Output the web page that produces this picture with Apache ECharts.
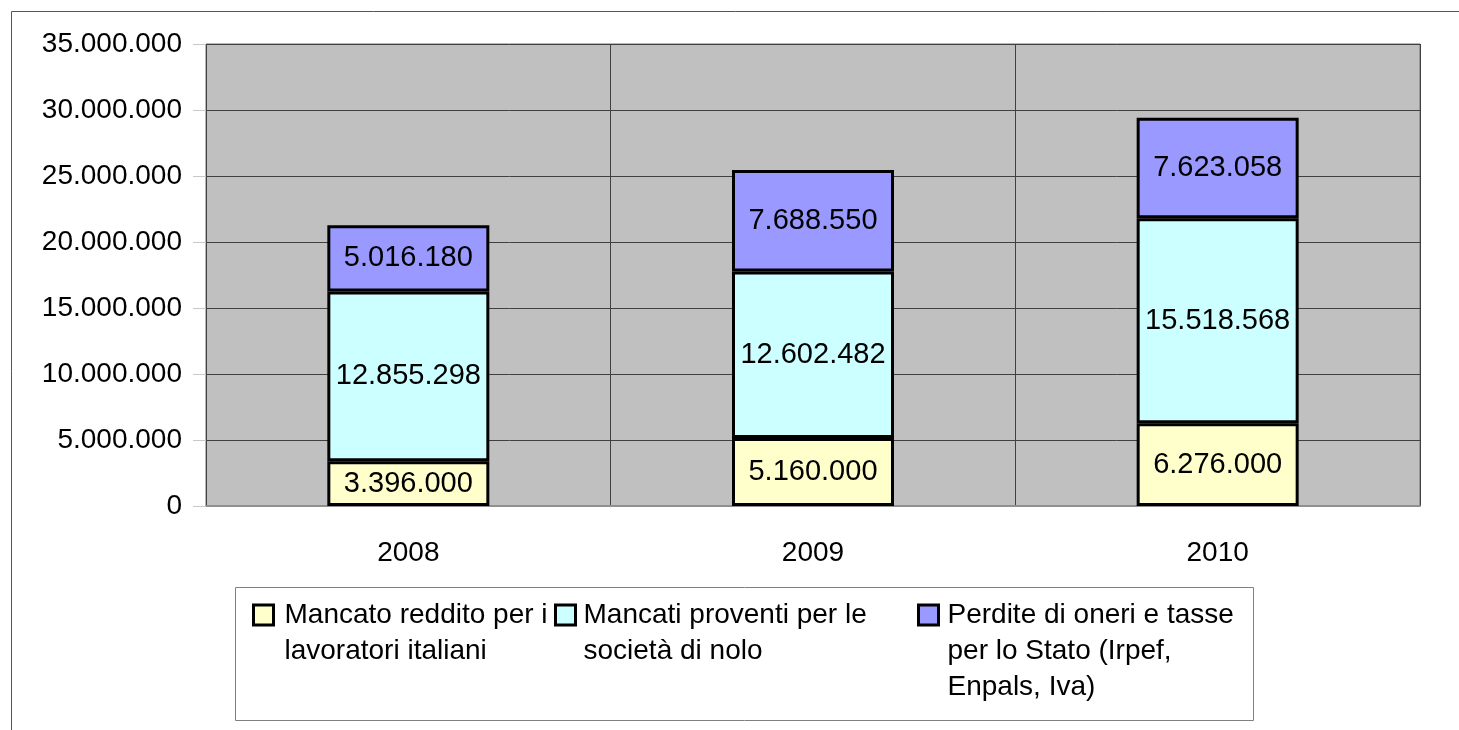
<!DOCTYPE html>
<html>
<head>
<meta charset="utf-8">
<script src="https://cdn.jsdelivr.net/npm/echarts@6/dist/echarts.min.js"></script>
<style>
  html, body { margin: 0; padding: 0; background: #fff; }
  #chart { width: 1459px; height: 730px; }
</style>
</head>
<body>
<div id="chart"></div>
<script>
// dati
const years = ['2008', '2009', '2010'];
const redditoLavoratori = [3396000, 5160000, 6276000];
const proventiNolo = [12855298, 12602482, 15518568];
const perditeStato = [5016180, 7688550, 7623058];
const seriesNames = [
  'Mancato reddito per i lavoratori italiani',
  'Mancati proventi per le società di nolo',
  'Perdite di oneri e tasse per lo Stato (Irpef, Enpals, Iva)'
];
// righe del testo in legenda (a capo come nell'originale)
const legendLines = [
  ['Mancato reddito per i', 'lavoratori italiani'],
  ['Mancati proventi per le', 'società di nolo'],
  ['Perdite di oneri e tasse', 'per lo Stato (Irpef,', 'Enpals, Iva)']
];
const colors = ['#ffffcc', '#ccffff', '#9999ff'];

const FONT = "'Liberation Sans', Arial, sans-serif";
const LH = 36;

// separatore delle migliaia all'italiana
const fmt = v => String(Math.round(v)).replace(/\B(?=(\d{3})+(?!\d))/g, '.');

const chart = echarts.init(document.getElementById('chart'));

const dataSets = [redditoLavoratori, proventiNolo, perditeStato];

const series = dataSets.map((d, i) => ({
  name: seriesNames[i],
  type: 'bar',
  stack: 'tot',
  barWidth: 162,
  data: d,
  itemStyle: { color: colors[i], borderColor: '#000', borderWidth: 3 },
  label: {
    show: true,
    position: 'inside',
    formatter: p => fmt(p.value),
    color: '#000',
    fontSize: 29,
    fontFamily: FONT
  },
  emphasis: { disabled: true }
}));

// una legenda per voce; righe vuote in testa così il quadratino
// (centrato sul blocco di testo) resta all'altezza della prima riga
const legendLeft = [252, 554, 917];
const legendPadLeft = [6, 3, 4];
const legends = seriesNames.map((name, i) => {
  const n = legendLines[i].length;
  const H = (2 * n - 1) * LH;
  return {
    data: [name],
    left: legendLeft[i],
    top: 605 - (H / 2 - 10),
    padding: 0,
    itemWidth: 20,
    itemHeight: 20,
    icon: 'rect',
    selectedMode: false,
    itemStyle: { borderColor: '#000', borderWidth: 3 },
    formatter: () => '\n'.repeat(n - 1) + legendLines[i].join('\n'),
    textStyle: {
      fontSize: 28,
      fontFamily: FONT,
      color: '#000',
      lineHeight: LH,
      backgroundColor: 'transparent',
      padding: [0, 0, 0, legendPadLeft[i]]
    }
  };
});

chart.setOption({
  animation: false,
  grid: {
    left: 206, right: 39, top: 44, bottom: 224,
    show: true,
    backgroundColor: '#c0c0c0',
    borderColor: '#707070',
    borderWidth: 1
  },
  legend: legends,
  xAxis: {
    type: 'category',
    data: years,
    axisLine: { lineStyle: { color: '#909090', width: 2 } },
    axisTick: { length: 17, lineStyle: { color: '#c8c8c8' } },
    splitLine: { show: true, lineStyle: { color: '#404040', width: 1 } },
    axisLabel: { color: '#000', fontSize: 28, fontFamily: FONT, margin: 33 }
  },
  yAxis: {
    type: 'value',
    min: 0,
    max: 35000000,
    interval: 5000000,
    axisLine: { show: false },
    axisTick: { show: true, length: 13, lineStyle: { color: '#c8c8c8' } },
    splitLine: { lineStyle: { color: '#404040', width: 1 } },
    axisLabel: { color: '#000', fontSize: 28, fontFamily: FONT, margin: 24, formatter: v => fmt(v) }
  },
  graphic: [
    { type: 'rect', shape: { x: 11.5, y: 11.5, width: 1500, height: 800 }, style: { fill: 'none', stroke: '#555', lineWidth: 1 }, silent: true },
    { type: 'rect', shape: { x: 235.5, y: 587.5, width: 1018, height: 133 }, style: { fill: 'none', stroke: '#808080', lineWidth: 1 }, silent: true, z: -1 }
  ],
  series: series
});
</script>
</body>
</html>
